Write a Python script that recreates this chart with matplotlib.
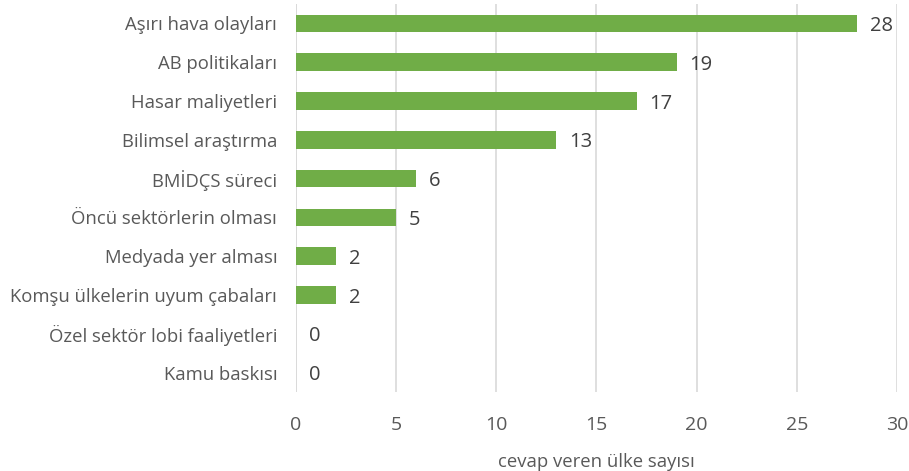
import matplotlib
matplotlib.use("Agg")
import matplotlib.pyplot as plt

# Data (top to bottom as shown)
categories = [
    "Aşırı hava olayları",
    "AB politikaları",
    "Hasar maliyetleri",
    "Bilimsel araştırma",
    "BMİDÇS süreci",
    "Öncü sektörlerin olması",
    "Medyada yer alması",
    "Komşu ülkelerin uyum çabaları",
    "Özel sektör lobi faaliyetleri",
    "Kamu baskısı",
]
counts = [28, 19, 17, 13, 6, 5, 2, 2, 0, 0]
x_ticks = [0, 5, 10, 15, 20, 25, 30]
x_label = "cevap veren ülke sayısı"

plt.rcParams["font.family"] = ["Open Sans", "DejaVu Sans"]

fig = plt.figure(figsize=(9.09, 4.71), dpi=100)
ax = fig.add_axes([0.3256, 0.1677, 0.6612, 0.8238])

ypos = list(range(len(categories)))[::-1]
ax.barh(ypos, counts, height=0.45, color="#70AD47", zorder=3)

for y, v in zip(ypos, counts):
    ax.text(v + 0.65, y, str(v), va="center_baseline", ha="left",
            fontsize=14.5, color="#404040")

ax.set_xlim(0, 30)
ax.set_ylim(-0.5, len(categories) - 0.5)
ax.set_xticks(x_ticks)
ax.set_xticklabels([str(t) for t in x_ticks], fontsize=14, color="#595959")
ax.set_yticks(ypos)
ax.set_yticklabels(categories, fontsize=13.3, color="#595959")
ax.tick_params(axis="both", length=0)
ax.tick_params(axis="x", pad=17)
ax.tick_params(axis="y", pad=13.5)

ax.grid(axis="x", color="#D9D9D9", linewidth=1.2, zorder=0)
for s in ax.spines.values():
    s.set_visible(False)
ax.axvline(0, color="#D9D9D9", linewidth=1.2, zorder=1)

ax.set_xlabel(x_label, fontsize=13.3, color="#595959", labelpad=14)

fig.savefig("out.png", dpi=100)
